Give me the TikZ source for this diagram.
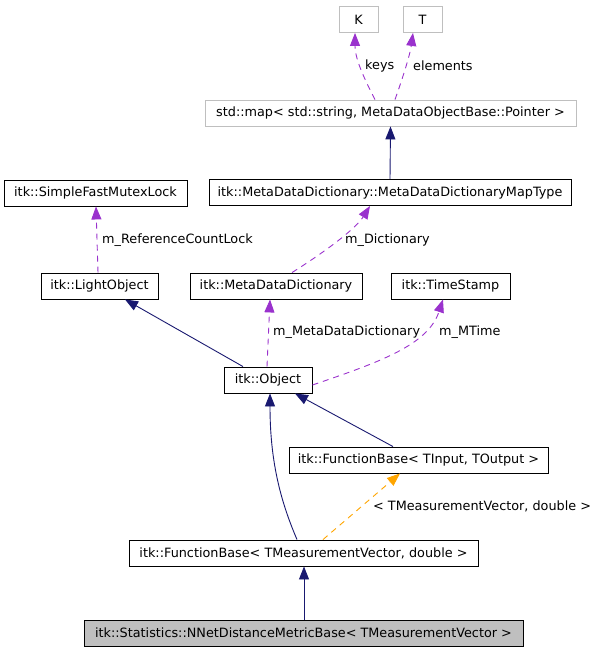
\documentclass[tikz,border=0pt]{standalone}
\usepackage{fontspec}
\setmainfont{DejaVu Sans}
\usetikzlibrary{arrows.meta}
\definecolor{navy}{HTML}{191970}
\definecolor{dep}{HTML}{9A32CD}
\definecolor{tmpl}{HTML}{FFA500}
\definecolor{lgray}{HTML}{BFBFBF}
\tikzset{
  box/.style={draw=black, line width=0.9pt, fill=white, minimum height=26pt, inner sep=0pt, font=\fontsize{12.8}{15}\selectfont},
  extbox/.style={box, draw=lgray},
  mainbox/.style={box, fill=lgray},
  lbl/.style={anchor=west, inner sep=0pt, font=\fontsize{12.8}{15}\selectfont},
  inherit/.style={-{Triangle[length=13pt,width=10pt,fill=navy]}, draw=navy, line width=0.9pt},
  usage/.style={-{Triangle[length=13pt,width=10pt,fill=dep]}, draw=dep, line width=0.9pt, dash pattern=on 6pt off 5pt},
  tmplink/.style={-{Triangle[length=13pt,width=10pt,fill=tmpl]}, draw=tmpl, line width=0.9pt, dash pattern=on 6pt off 5pt},
}
\begin{document}
\begin{tikzpicture}[x=1pt,y=-1pt]
\useasboundingbox (0,0) rectangle (597,653);
% nodes
\node[extbox, minimum width=39pt] (K) at (358.5,19.5) {K};
\node[extbox, minimum width=39pt] (T) at (422.5,19.5) {T};
\node[extbox, minimum width=371pt] (map) at (390.5,113) {std::map< std::string, MetaDataObjectBase::Pointer >};
\node[box, minimum width=362pt] (maptype) at (390,192.5) {itk::MetaDataDictionary::MetaDataDictionaryMapType};
\node[box, minimum width=183pt] (mutex) at (95.5,193) {itk::SimpleFastMutexLock};
\node[box, minimum width=117pt] (light) at (99.5,286) {itk::LightObject};
\node[box, minimum width=172pt] (mdd) at (276,286) {itk::MetaDataDictionary};
\node[box, minimum width=119pt] (ts) at (450.5,286) {itk::TimeStamp};
\node[box, minimum width=88pt] (obj) at (268,380) {itk::Object};
\node[box, minimum width=259pt] (fbio) at (418.5,460) {itk::FunctionBase< TInput, TOutput >};
\node[box, minimum width=349pt] (fbtmv) at (303.5,553) {itk::FunctionBase< TMeasurementVector, double >};
\node[mainbox, minimum width=439pt] (nnet) at (303.5,633) {itk::Statistics::NNetDistanceMetricBase< TMeasurementVector >};
% connectors
\draw[usage] ([xshift=-15.5pt]map.north) .. controls (366,82) and (355,60) .. ([xshift=-3.5pt]K.south);
\draw[usage] ([xshift=4.5pt]map.north) .. controls (402,80) and (410,55) .. ([xshift=-9.5pt]T.south);
\draw[inherit] (maptype.north) -- (map.south);
\draw[usage] ([xshift=16pt]mdd.north) .. controls (320,255) and (355,230) .. ([xshift=-20pt]maptype.south);
\draw[usage] ([xshift=-1.5pt]light.north) -- ([xshift=0.5pt]mutex.south);
\draw[inherit] ([xshift=-25pt]obj.north) -- ([xshift=25.5pt]light.south);
\draw[usage] ([xshift=-1pt]obj.north) -- ([xshift=-6pt]mdd.south);
\draw[usage] ([yshift=-5pt]obj.east) .. controls (380,362) and (428,345) .. ([xshift=-7.5pt]ts.south);
\draw[inherit] ([xshift=-25.5pt]fbio.north) -- ([xshift=27pt]obj.south);
\draw[inherit] ([xshift=-6.5pt]fbtmv.north) .. controls (280,500) and (270,460) .. ([xshift=2pt]obj.south);
\draw[tmplink] ([xshift=19.5pt]fbtmv.north) -- ([xshift=-18.5pt]fbio.south);
\draw[inherit] ([xshift=0.5pt]nnet.north) -- ([xshift=0.5pt]fbtmv.south);
% labels
\node[lbl] (lkeys) at (365,66) {keys};
\node[lbl] (lelem) at (413,66) {elements};
\node[lbl] (lref) at (102,240) {m\_ReferenceCountLock};
\node[lbl] (ldict) at (345,240) {m\_Dictionary};
\node[lbl] (lmdd) at (273,332) {m\_MetaDataDictionary};
\node[lbl] (lmt) at (439,332) {m\_MTime};
\node[lbl] (ltmv) at (373,506) {< TMeasurementVector, double >};
\end{tikzpicture}
\end{document}
